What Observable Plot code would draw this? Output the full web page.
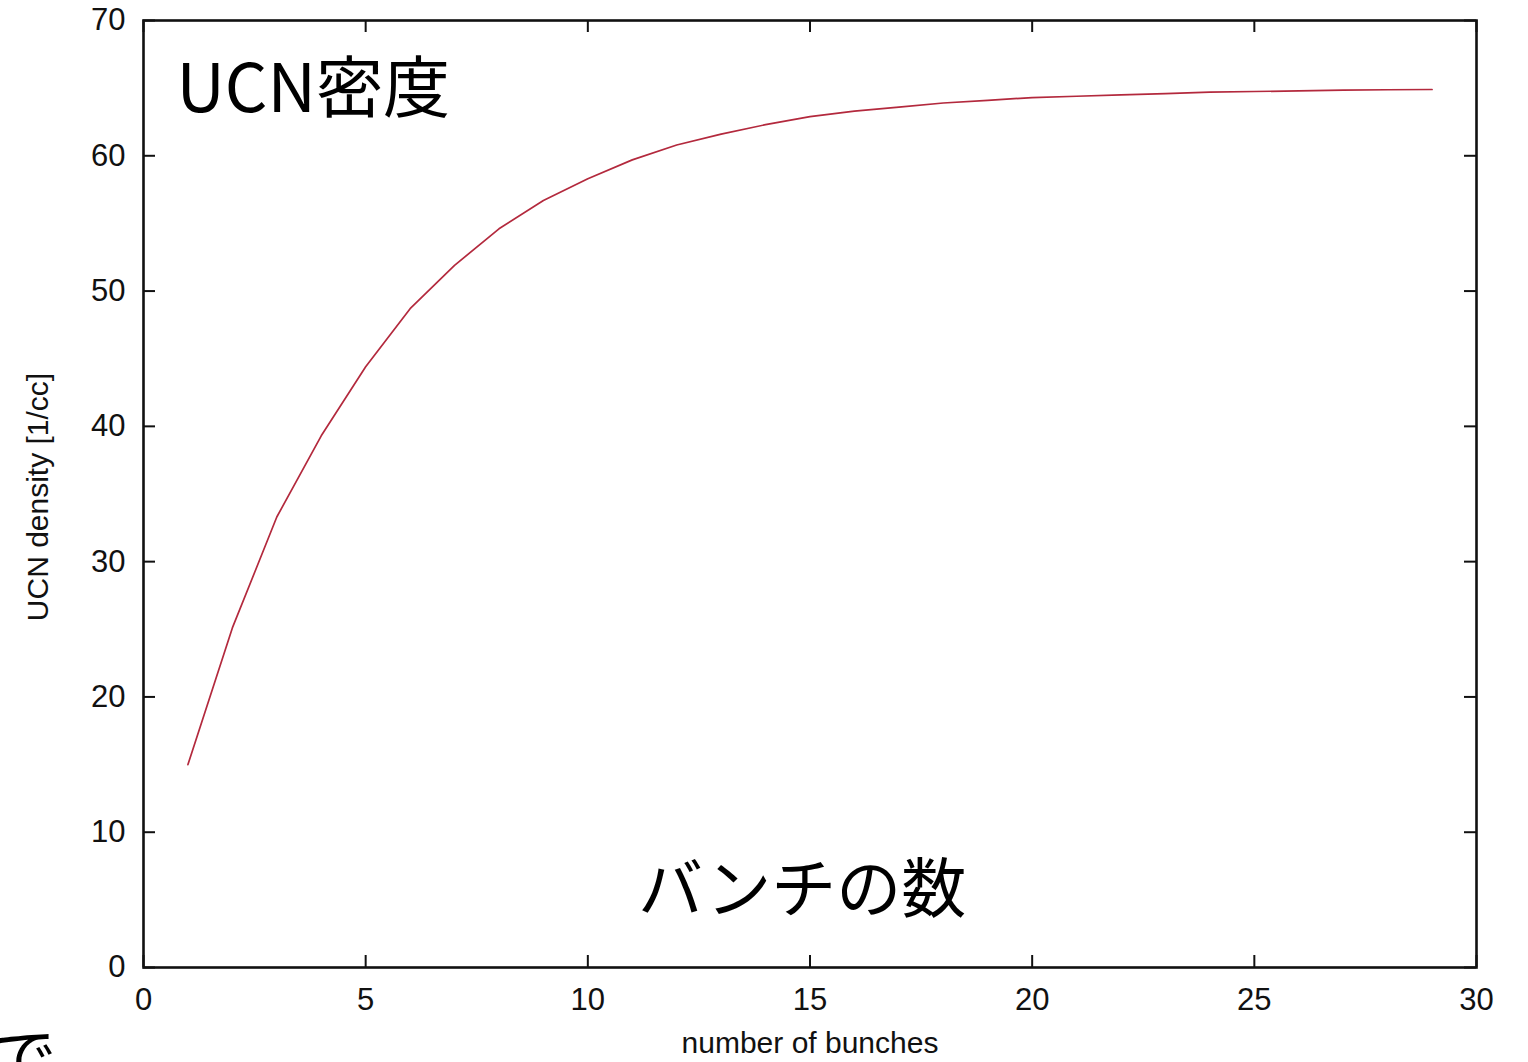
<!DOCTYPE html>
<html>
<head>
<meta charset="utf-8">
<script src="https://cdn.jsdelivr.net/npm/d3@7"></script>
<script src="https://cdn.jsdelivr.net/npm/@observablehq/plot@0.6"></script>
<style>
  html, body { margin: 0; padding: 0; background: #fff; overflow: hidden; }
  #chart { width: 1528px; height: 1062px; }
</style>
</head>
<body>
<div id="chart"></div>
<script>
const bunches = [1,2,3,4,5,6,7,8,9,10,11,12,13,14,15,16,17,18,19,20,21,22,23,24,25,26,27,28,29];
const density = [15.0,25.1,33.3,39.3,44.4,48.7,51.9,54.6,56.7,58.3,59.7,60.8,61.6,62.3,62.9,63.3,63.6,63.9,64.1,64.3,64.4,64.5,64.6,64.7,64.75,64.8,64.85,64.88,64.9];
const xTicks = [0,5,10,15,20,25,30];
const yTicks = [0,10,20,30,40,50,60,70];
const xLabel = "number of bunches";
const yLabel = "UCN density [1/cc]";
const titleJa = "UCN密度";
const xLabelJa = "バンチの数";
const cornerJa = "で";

const data = bunches.map((b, i) => ({b, d: density[i]}));

const W = 1528, H = 1062;
const mL = 143, mR = 52, mT = 20, mB = 95;
const pw = W - mL - mR, ph = H - mT - mB;
const tk = 12;
const cjk = "'Noto Sans CJK JP', 'Noto Sans', sans-serif";

const chart = Plot.plot({
  width: W, height: H,
  marginLeft: mL, marginRight: mR, marginTop: mT, marginBottom: mB,
  style: {fontFamily: "'Liberation Sans', Arial, sans-serif", fontSize: "31px", color: "#111", background: "#fff", overflow: "visible"},
  x: {domain: [0, 30]},
  y: {domain: [0, 70]},
  marks: [
    // inward tick marks on all four sides
    Plot.tickY(yTicks, {y: d => d, insetRight: pw - tk, stroke: "#111", strokeWidth: 2}),
    Plot.tickY(yTicks, {y: d => d, insetLeft: pw - tk, stroke: "#111", strokeWidth: 2}),
    Plot.tickX(xTicks, {x: d => d, insetTop: ph - tk, stroke: "#111", strokeWidth: 2}),
    Plot.tickX(xTicks, {x: d => d, insetBottom: ph - tk, stroke: "#111", strokeWidth: 2}),
    Plot.frame({stroke: "#111", strokeWidth: 2.6}),
    Plot.line(data, {x: "b", y: "d", stroke: "#b3293d", strokeWidth: 1.7}),
    Plot.axisX({ticks: xTicks, tickSize: 0, tickPadding: 20, label: null, tickFormat: d => String(d), fontSize: 31}),
    Plot.axisY({ticks: yTicks, tickSize: 0, tickPadding: 18, label: null, tickFormat: d => String(d), fontSize: 31}),
    Plot.text([xLabel], {text: d => d, frameAnchor: "bottom", textAnchor: "middle", dy: 76, lineAnchor: "middle", fontSize: 30}),
    Plot.text([yLabel], {text: d => d, frameAnchor: "left", textAnchor: "middle", dx: -105, dy: 3, rotate: -90, lineAnchor: "middle", fontSize: 30}),
    Plot.text([titleJa], {text: d => d, frameAnchor: "top-left", textAnchor: "start", dx: 33, dy: 70, lineAnchor: "middle", fontSize: 67, fontFamily: cjk, fill: "#000"}),
    Plot.text([xLabelJa], {text: d => d, frameAnchor: "bottom", textAnchor: "middle", dx: -8, dy: -76, lineAnchor: "middle", fontSize: 65, fontFamily: cjk, fill: "#000"}),
    Plot.text([cornerJa], {text: d => d, frameAnchor: "bottom-left", textAnchor: "start", dx: -151, dy: 92, lineAnchor: "middle", fontSize: 64, fontFamily: cjk, fill: "#000"})
  ]
});
document.getElementById("chart").appendChild(chart);
</script>
</body>
</html>
